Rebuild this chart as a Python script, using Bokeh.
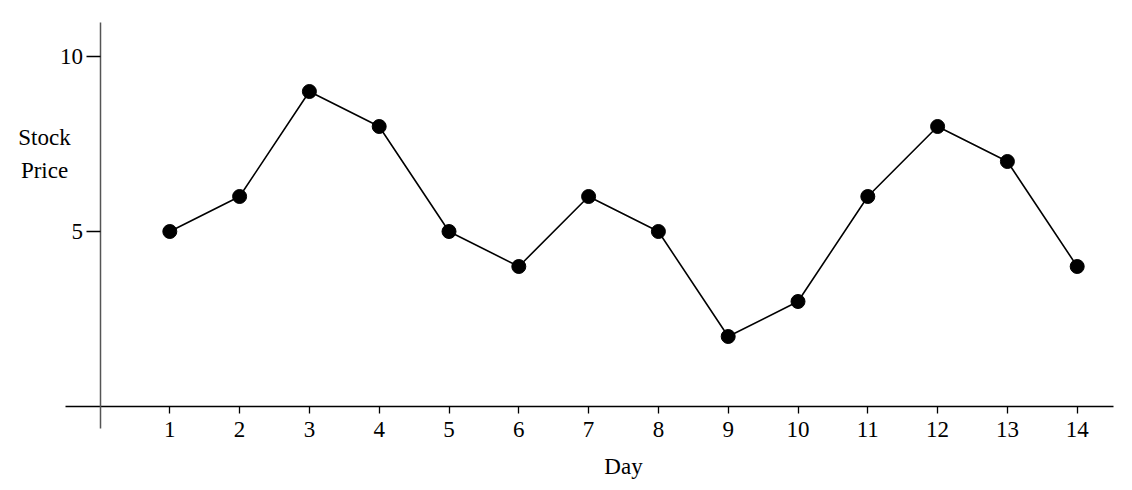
from bokeh.plotting import figure
from bokeh.models import Label, FixedTicker, Range1d
from bokeh.embed import file_html
from bokeh.resources import INLINE

days = [1, 2, 3, 4, 5, 6, 7, 8, 9, 10, 11, 12, 13, 14]
prices = [5, 6, 9, 8, 5, 4, 6, 5, 2, 3, 6, 8, 7, 4]
x_ticks = days
y_ticks = [5, 10]

FONT = "Liberation Serif"
FS = "23px"

p = figure(width=1116, height=480, output_backend="svg", toolbar_location=None,
           x_range=Range1d(-1.4255, 14.563), y_range=Range1d(-2.114, 11.6),
           min_border_left=0, min_border_bottom=0, min_border_top=0, min_border_right=0)
p.outline_line_color = None
p.grid.visible = False
p.background_fill_color = "white"
p.border_fill_color = "white"

p.line(days, prices, line_color="black", line_width=1.6)
p.scatter(days, prices, size=14, fill_color="black", line_color="black")

xa = p.xaxis[0]
xa.fixed_location = 0
xa.bounds = (-0.494, 14.52)
xa.ticker = FixedTicker(ticks=x_ticks)
xa.minor_tick_line_color = None
xa.major_tick_in = 0
xa.major_tick_out = 7
xa.axis_line_color = "black"
xa.axis_line_width = 1.5
xa.major_tick_line_color = "black"
xa.major_tick_line_width = 1.3
xa.major_label_text_font = FONT
xa.major_label_text_font_size = FS
xa.major_label_text_color = "black"
xa.major_label_standoff = 8

ya = p.yaxis[0]
ya.fixed_location = 0
ya.bounds = (-0.629, 10.97)
ya.ticker = FixedTicker(ticks=y_ticks)
ya.minor_tick_line_color = None
ya.major_tick_in = 0
ya.major_tick_out = 14
ya.axis_line_color = "#555555"
ya.axis_line_width = 1.5
ya.major_tick_line_color = "black"
ya.major_tick_line_width = 1.3
ya.major_label_text_font = FONT
ya.major_label_text_font_size = FS
ya.major_label_text_color = "black"
ya.major_label_standoff = 3

for txt, xx, yy in [("Stock", -0.795, 7.686), ("Price", -0.795, 6.743), ("Day", 7.5, -1.714)]:
    p.add_layout(Label(x=xx, y=yy, text=txt, text_font=FONT, text_font_size=FS,
                       text_color="black", text_align="center", text_baseline="alphabetic"))

open("out.html", "w").write(file_html(p, INLINE))
